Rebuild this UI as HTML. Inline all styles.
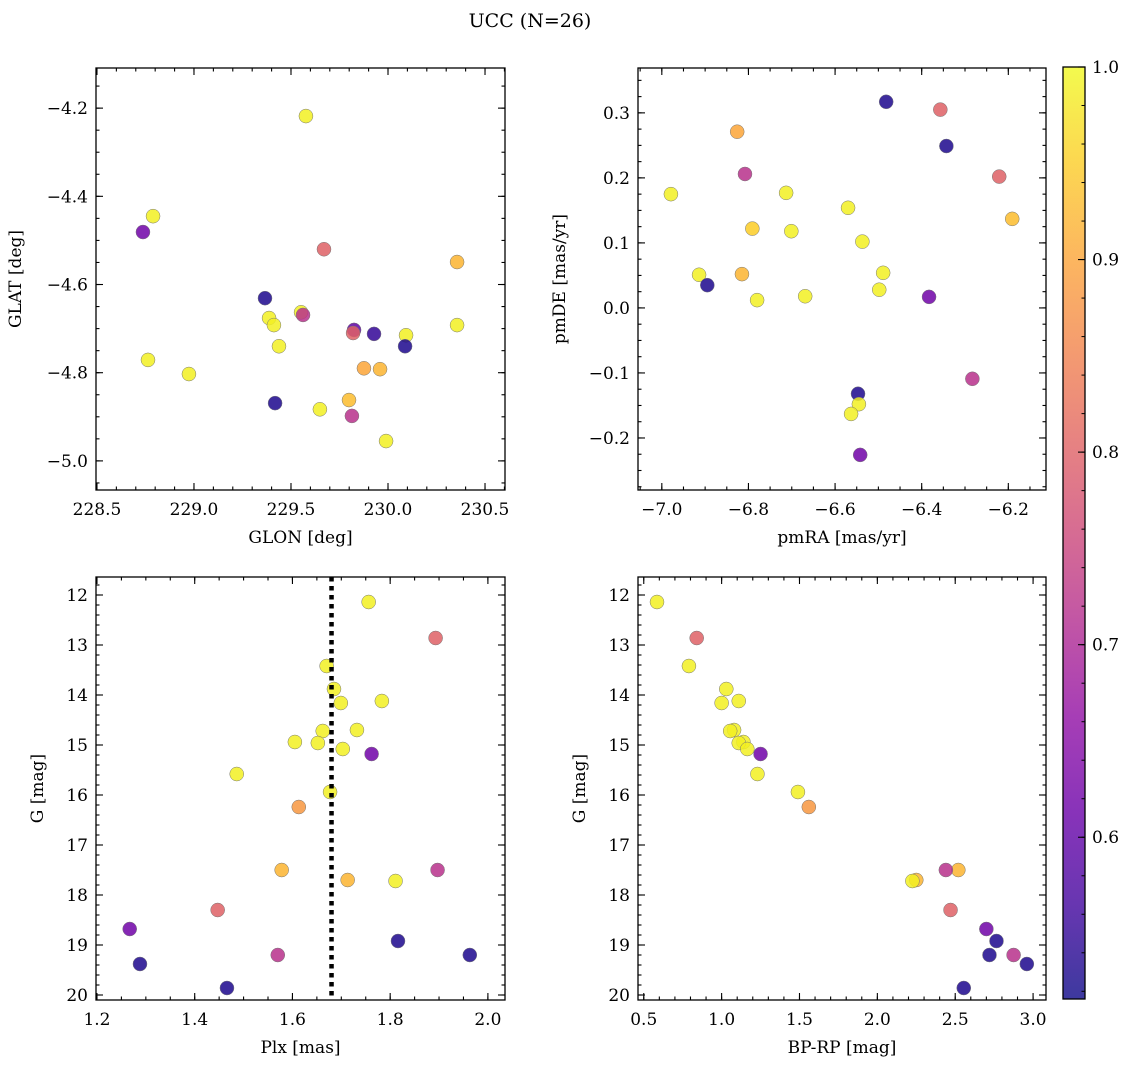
<!DOCTYPE html>
<html><head><meta charset="utf-8"><style>
html,body{margin:0;padding:0;background:#fff;}
svg text{font-family:"DejaVu Serif","Liberation Serif",serif;fill:#000;}
</style></head><body>
<svg id="fig" width="1136" height="1067" viewBox="0 0 1136 1067" xmlns="http://www.w3.org/2000/svg" font-family="DejaVu Serif, Liberation Serif, serif">
<text x="530" y="27" font-size="19" text-anchor="middle">UCC (N=26)</text>
</svg>
<script>
// Panel 1: GLON / GLAT
const glon = [229.577,228.789,228.737,229.670,230.356,229.366,229.552,229.562,229.387,229.412,229.825,229.820,229.928,230.093,230.356,229.438,230.088,228.763,228.974,229.876,229.959,229.418,229.649,229.799,229.814,229.990];
const glat = [-4.218,-4.445,-4.481,-4.520,-4.549,-4.631,-4.663,-4.669,-4.676,-4.692,-4.703,-4.710,-4.712,-4.715,-4.692,-4.740,-4.740,-4.771,-4.803,-4.790,-4.792,-4.869,-4.883,-4.862,-4.898,-4.955];
const prob1 = [0.99,0.99,0.62,0.80,0.92,0.53,0.99,0.72,0.99,0.99,0.60,0.80,0.55,0.99,0.99,0.99,0.53,0.99,0.99,0.90,0.92,0.53,0.99,0.93,0.72,0.99];
// Panel 2: pmRA / pmDE
const pmra = [-6.979,-6.482,-6.357,-6.826,-6.343,-6.808,-6.221,-6.713,-6.570,-6.191,-6.791,-6.701,-6.537,-6.914,-6.815,-6.489,-6.895,-6.498,-6.780,-6.669,-6.383,-6.283,-6.547,-6.545,-6.563,-6.542];
const pmde = [0.175,0.317,0.305,0.271,0.249,0.206,0.202,0.177,0.154,0.137,0.122,0.118,0.102,0.051,0.052,0.054,0.035,0.028,0.012,0.018,0.017,-0.109,-0.132,-0.148,-0.163,-0.226];
const prob2 = [0.99,0.53,0.80,0.90,0.53,0.72,0.80,0.99,0.99,0.93,0.95,0.99,0.99,0.99,0.92,0.99,0.53,0.99,0.99,0.99,0.62,0.72,0.53,0.99,0.99,0.62];
// Panels 3/4: Plx, G, BP-RP
const plx  = [1.756,1.893,1.670,1.685,1.783,1.699,1.732,1.662,1.605,1.652,1.703,1.762,1.486,1.677,1.613,1.578,1.713,1.811,1.897,1.447,1.267,1.288,1.466,1.570,1.816,1.963];
const gmag = [12.14,12.86,13.42,13.88,14.12,14.16,14.70,14.72,14.94,14.96,15.08,15.18,15.58,15.94,16.24,17.50,17.70,17.72,17.50,18.30,18.68,19.38,19.86,19.20,18.92,19.20];
const bprp = [0.585,0.84,0.79,1.03,1.11,1.00,1.08,1.055,1.14,1.11,1.165,1.25,1.23,1.49,1.56,2.52,2.25,2.225,2.44,2.47,2.70,2.96,2.555,2.875,2.765,2.72];
const prob3 = [0.99,0.80,0.99,0.99,0.99,0.99,0.99,0.99,0.99,0.99,0.99,0.62,0.99,0.99,0.88,0.92,0.92,0.99,0.72,0.80,0.62,0.53,0.53,0.72,0.53,0.53];
const plxCut = [1.68];
const cbTicks = [0.6,0.7,0.8,0.9,1.0];
const cbRange = [0.516,1.0];

const NS='http://www.w3.org/2000/svg';
const svg=document.getElementById('fig');
const FF='DejaVu Serif, Liberation Serif, serif';
function mk(tag,attrs,parent){const e=document.createElementNS(NS,tag);for(const k in attrs)e.setAttribute(k,attrs[k]);if(tag==='text')e.setAttribute('font-family',FF);(parent||svg).appendChild(e);return e;}
const stops=[[0,13,8,135],[0.1,65,4,157],[0.2,106,0,168],[0.3,143,13,164],[0.4,177,42,144],[0.5,204,71,120],[0.6,225,100,98],[0.7,242,132,75],[0.8,252,166,54],[0.9,252,206,37],[1,240,249,33]];
function plasma(t){t=Math.max(0,Math.min(1,t));for(let i=1;i<stops.length;i++){if(t<=stops[i][0]){const a=stops[i-1],b=stops[i],f=(t-a[0])/(b[0]-a[0]);return 'rgb('+[1,2,3].map(j=>Math.round(a[j]+f*(b[j]-a[j]))).join(',')+')';}}return 'rgb(240,249,33)';}
function pcol(p){return plasma((p-cbRange[0])/(cbRange[1]-cbRange[0]));}
function fmt(v,d){const s=v.toFixed(d);return s.startsWith('-')?'\u2212'+s.slice(1):s;}

function panel(o){
  const g=mk('g',{});
  
  
  const X=v=>o.x0+(v-o.xl[0])/(o.xl[1]-o.xl[0])*(o.x1-o.x0);
  const Y=v=>o.y1-(v-o.yl[0])/(o.yl[1]-o.yl[0])*(o.y1-o.y0);
  const pg=mk('g',{},g);
  
  
  for(let i=0;i<o.xs.length;i++){
    const c=mk('circle',{cx:X(o.xs[i]),cy:Y(o.ys[i]),r:7,fill:pcol(o.cs[i]),'fill-opacity':0.85,stroke:'#777','stroke-width':0.5},pg);
    
    
  }
  if(o.vline){
    const l=mk('line',{x1:X(o.vline),x2:X(o.vline),y1:o.y0,y2:o.y1,stroke:'#000','stroke-width':4.5,'stroke-dasharray':'4.5,4.5'},g);
    
    
  }
  const tk=mk('g',{stroke:'#000','stroke-width':1.1},g);
  
  
  const eps=1e-9;
  for(let v=Math.ceil(o.xl[0]/o.xmin-eps)*o.xmin;v<=o.xl[1]+eps;v+=o.xmin){const px=X(v);mk('line',{x1:px,x2:px,y1:o.y1,y2:o.y1-3.5},tk);mk('line',{x1:px,x2:px,y1:o.y0,y2:o.y0+3.5},tk);}
  for(let v=Math.ceil(Math.min(o.yl[0],o.yl[1])/o.ymin-eps)*o.ymin;v<=Math.max(o.yl[0],o.yl[1])+eps;v+=o.ymin){const py=Y(v);mk('line',{x1:o.x0,x2:o.x0+3.5,y1:py,y2:py},tk);mk('line',{x1:o.x1,x2:o.x1-3.5,y1:py,y2:py},tk);}
  o.xt.forEach(v=>{const px=X(v);mk('line',{x1:px,x2:px,y1:o.y1,y2:o.y1-7},tk);mk('line',{x1:px,x2:px,y1:o.y0,y2:o.y0+7},tk);
    const t=mk('text',{x:px,y:o.y1+25,'font-size':17,'text-anchor':'middle'},g);t.textContent=fmt(v,o.xd);});
  o.yt.forEach(v=>{const py=Y(v);mk('line',{x1:o.x0,x2:o.x0+7,y1:py,y2:py},tk);mk('line',{x1:o.x1,x2:o.x1-7,y1:py,y2:py},tk);
    const t=mk('text',{x:o.x0-8,y:py+6,'font-size':17,'text-anchor':'end'},g);t.textContent=fmt(v,o.yd);});
  const fr=mk('rect',{x:o.x0,y:o.y0,width:o.x1-o.x0,height:o.y1-o.y0,fill:'none',stroke:'#000','stroke-width':1.3},g);
  
  
  const xl=mk('text',{x:(o.x0+o.x1)/2,y:o.y1+53,'font-size':17,'text-anchor':'middle'},g);xl.textContent=o.xlab;
  
  
  const yx=o.ylx, yy=(o.y0+o.y1)/2;
  const yl=mk('text',{x:yx,y:yy,'font-size':17,'text-anchor':'middle',transform:'rotate(-90 '+yx+' '+yy+')'},g);yl.textContent=o.ylab;
  
  
}
const rng=(a,b,s)=>{const r=[];for(let v=a;v<=b+1e-9;v+=s)r.push(Math.round(v*1000)/1000);return r;};
panel({name:'glon-glat-panel',x0:96,x1:505,y0:68,y1:490,xl:[228.495,230.603],yl:[-5.066,-4.109],xt:rng(228.5,230.5,0.5),yt:rng(-5.0,-4.2,0.2),xmin:0.1,ymin:0.05,xd:1,yd:1,xs:glon,ys:glat,cs:prob1,xlab:'GLON [deg]',ylab:'GLAT [deg]',ylx:21});
panel({name:'pm-panel',x0:638,x1:1046,y0:68,y1:490,xl:[-7.055,-6.113],yl:[-0.28,0.369],xt:rng(-7.0,-6.2,0.2),yt:rng(-0.2,0.3,0.1),xmin:0.05,ymin:0.025,xd:1,yd:1,xs:pmra,ys:pmde,cs:prob2,xlab:'pmRA [mas/yr]',ylab:'pmDE [mas/yr]',ylx:565});
panel({name:'plx-g-panel',x0:96,x1:505,y0:577,y1:1000,xl:[1.198,2.035],yl:[20.1,11.64],xt:rng(1.2,2.0,0.2),yt:rng(12,20,1),xmin:0.05,ymin:0.2,xd:1,yd:0,xs:plx,ys:gmag,cs:prob3,xlab:'Plx [mas]',ylab:'G [mag]',ylx:43,vline:plxCut[0]});
panel({name:'cmd-panel',x0:638,x1:1046,y0:577,y1:1000,xl:[0.463,3.083],yl:[20.1,11.64],xt:rng(0.5,3.0,0.5),yt:rng(12,20,1),xmin:0.1,ymin:0.2,xd:1,yd:0,xs:bprp,ys:gmag,cs:prob3,xlab:'BP-RP [mag]',ylab:'G [mag]',ylx:585});

const cb=mk('g',{});


const defs=mk('defs',{},cb);
const lg=mk('linearGradient',{id:'cbg',x1:0,y1:1,x2:0,y2:0},defs);
for(let i=0;i<=20;i++){mk('stop',{offset:(i/20),'stop-color':plasma(i/20),'stop-opacity':0.8},lg);}
const cx0=1063,cx1=1085,cy0=67,cy1=999;
const CY=v=>cy1-(v-cbRange[0])/(cbRange[1]-cbRange[0])*(cy1-cy0);
mk('rect',{x:cx0,y:cy0,width:cx1-cx0,height:cy1-cy0,fill:'url(#cbg)',stroke:'#000','stroke-width':1.3},cb);
for(let v=0.52;v<=1.0001;v+=0.02){mk('line',{x1:cx1,x2:cx1-3.5,y1:CY(v),y2:CY(v),stroke:'#000','stroke-width':1},cb);}
cbTicks.forEach(v=>{mk('line',{x1:cx1,x2:cx1-7,y1:CY(v),y2:CY(v),stroke:'#000','stroke-width':1.1},cb);
  const t=mk('text',{x:cx1+7,y:CY(v)+6,'font-size':17},cb);t.textContent=v.toFixed(1);
  
  });
</script>
</body></html>
